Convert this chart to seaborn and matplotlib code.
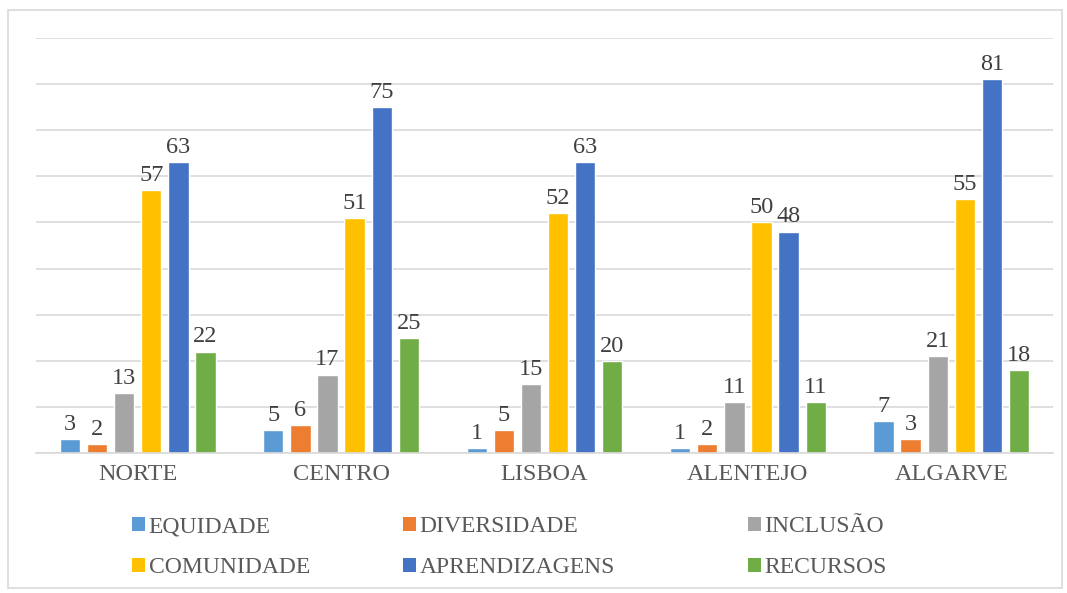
import matplotlib
matplotlib.use("Agg")
import matplotlib.pyplot as plt
import seaborn as sns
import pandas as pd
from matplotlib.patches import Rectangle, Patch

regions = ["NORTE", "CENTRO", "LISBOA", "ALENTEJO", "ALGARVE"]
series = ["EQUIDADE", "DIVERSIDADE", "INCLUSÃO", "COMUNIDADE", "APRENDIZAGENS", "RECURSOS"]
equidade = [3, 5, 1, 1, 7]
diversidade = [2, 6, 5, 2, 3]
inclusao = [13, 17, 15, 11, 21]
comunidade = [57, 51, 52, 50, 55]
aprendizagens = [63, 75, 63, 48, 81]
recursos = [22, 25, 20, 11, 18]
colors = ["#5B9BD5", "#ED7D31", "#A5A5A5", "#FFC000", "#4472C4", "#70AD47"]

values = [equidade, diversidade, inclusao, comunidade, aprendizagens, recursos]
rows = []
for s, vals in zip(series, values):
    for r, v in zip(regions, vals):
        rows.append({"Região": r, "Série": s, "Valor": v})
df = pd.DataFrame(rows)

sns.set_style("white")
plt.rcParams["font.family"] = ["Liberation Serif", "DejaVu Serif"]
txt = "#595959"

fig = plt.figure(figsize=(10.67, 5.93), dpi=100)
ax = fig.add_axes([36 / 1067, 1 - 453 / 593, (1053 - 36) / 1067, (453 - 38) / 593])

sns.barplot(data=df, x="Região", y="Valor", hue="Série", order=regions,
            hue_order=series, palette=colors, width=0.8, gap=0.25,
            saturation=1, ax=ax, legend=False)

for cont in ax.containers:
    ax.bar_label(cont, padding=3, fontsize=17.5, color="#404040")

ax.set_ylim(0, 90)
ax.set_xlim(-0.5, 4.5)
ax.set_yticks(range(0, 91, 10))
ax.yaxis.grid(True, color="#D9D9D9", linewidth=1.2)
ax.set_axisbelow(True)
ax.tick_params(axis="y", left=False, labelleft=False)
ax.tick_params(axis="x", which="major", length=0, labelsize=17.5, labelcolor=txt, pad=8)
ax.set_xticks([i - 0.5 for i in range(6)], minor=True)
ax.tick_params(axis="x", which="minor", length=6, color="#D9D9D9", width=1.2)
for side in ["left", "right", "top"]:
    ax.spines[side].set_visible(False)
ax.spines["bottom"].set_color("#D9D9D9")
ax.spines["bottom"].set_linewidth(1.2)
ax.set_xlabel("")
ax.set_ylabel("")

# legend: three columns placed like the original
cols_x = [132, 403, 748]
for ci, x in enumerate(cols_x):
    idxs = [ci, ci + 3]
    handles = [Patch(facecolor=colors[i], edgecolor="none") for i in idxs]
    labels = [series[i] for i in idxs]
    fig.legend(handles, labels, loc="upper left",
               bbox_to_anchor=(x / 1067, 1 - 516 / 593),
               frameon=False, fontsize=17, labelcolor=txt,
               handlelength=0.55, handleheight=0.55, handletextpad=0.15,
               labelspacing=0.85, borderpad=0, borderaxespad=0)

fig.add_artist(Rectangle((8 / 1067, 1 - 588 / 593), (1062 - 8) / 1067, (588 - 10) / 593,
                         transform=fig.transFigure, fill=False,
                         edgecolor="#D9D9D9", linewidth=1.2))

fig.savefig("out.png", dpi=100)
